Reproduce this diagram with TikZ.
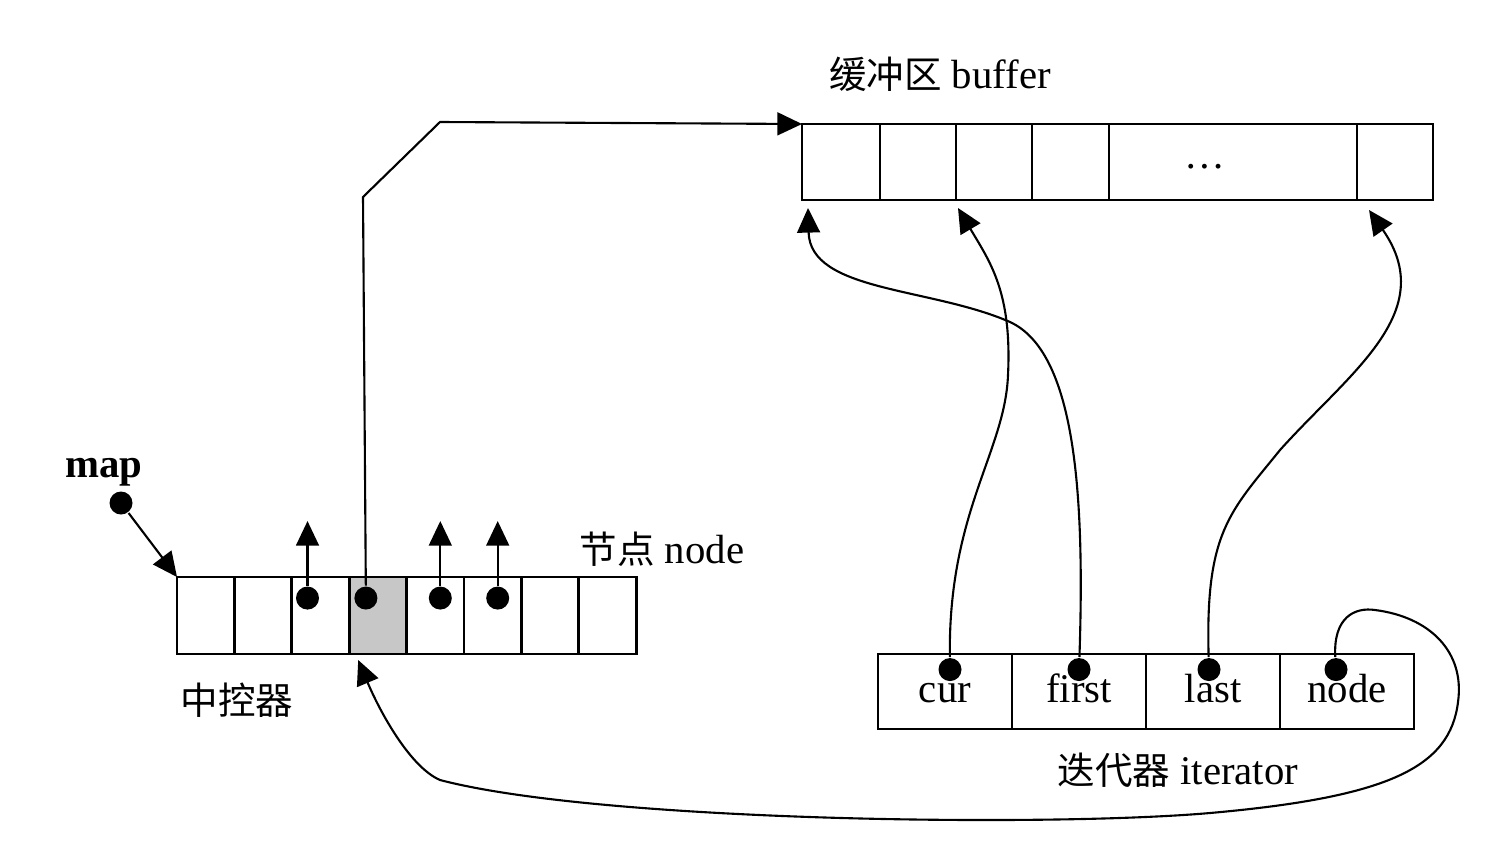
\documentclass[tikz,border=0pt]{standalone}
\usepackage{fontspec}
\setmainfont{Liberation Serif}
\newfontfamily\cjk[Scale=0.92]{Noto Sans CJK SC}
\usepackage{tikz}
\usetikzlibrary{arrows.meta,positioning,calc}

\begin{document}
\begin{tikzpicture}[>={Triangle[length=7pt,width=6.5pt]}, semithick, node distance=0pt,
    font=\fontsize{11.6}{14}\selectfont]

    \tikzstyle{cell}=[draw=black, thick, minimum height=0.77cm, minimum width=0.574cm, inner sep=0pt, outer sep=0pt]
    \tikzstyle{itcell}=[cell, minimum height=0.75cm, minimum width=1.34cm, text height=1.8ex, text depth=0.4ex]
    \tikzstyle{dot}=[circle, fill=black, inner sep=0pt, minimum size=0.23cm]
    \tikzstyle{lbl}=[inner sep=1pt]

    \useasboundingbox (0,0) rectangle (14.96,8.42);

    % map (the controller)
    \node[cell, anchor=west] (m0) at (1.77,2.265) {};
    \node[cell, right=of m0] (m1) {};
    \node[cell, right=of m1] (m2) {};
    \node[cell, right=of m2, fill=black!22] (m3) {};
    \node[cell, right=of m3] (m4) {};
    \node[cell, right=of m4] (m5) {};
    \node[cell, right=of m5] (m6) {};
    \node[cell, right=of m6] (m7) {};

    % buffer
    \node[cell, anchor=west, minimum height=0.76cm, minimum width=0.78cm] (b0) at (8.02,6.80) {};
    \node[cell, right=of b0, minimum height=0.76cm, minimum width=0.76cm] (b1) {};
    \node[cell, right=of b1, minimum height=0.76cm, minimum width=0.76cm] (b2) {};
    \node[cell, right=of b2, minimum height=0.76cm, minimum width=0.77cm] (b3) {};
    \node[cell, right=of b3, minimum height=0.76cm, minimum width=2.48cm] (b4) {};
    \node[cell, right=of b4, minimum height=0.76cm, minimum width=0.76cm] (b5) {};
    \node[lbl] (bdots) at ($(b4.center)+(-0.28,-0.05)$) {\dots};

    % iterator
    \node[itcell, anchor=west] (i0) at (8.78,1.505) {cur};
    \node[itcell, right=of i0] (i1) {first};
    \node[itcell, right=of i1] (i2) {last};
    \node[itcell, right=of i2] (i3) {node};

    % labels
    \node[lbl, font=\fontsize{11.6}{14}\selectfont\bfseries] (maplbl) at (1.04,3.70) {map};
    \node[lbl] (buflbl) at (9.40,7.68) {{\cjk 缓冲区} buffer};
    \node[lbl] (nodelbl) at (6.62,2.93) {{\cjk 节点} node};
    \node[lbl] (ctrllbl) at (2.37,1.42) {\cjk 中控器};
    \node[lbl] (itlbl) at (11.78,0.72) {{\cjk 迭代器} iterator};

    % pointers
    \node[dot] (dm) at (1.21,3.39) {};
    \node[dot, below=0.085cm of m2.north, xshift=-0.13cm] (d2) {};
    \node[dot, below=0.085cm of m3.north, xshift=-0.12cm] (d3) {};
    \node[dot, below=0.085cm of m4.north, xshift=0.05cm] (d4) {};
    \node[dot, below=0.085cm of m5.north, xshift=0.05cm] (d5) {};
    \node[dot, below=0.03cm of i0.north, xshift=0.05cm] (dcur) {};
    \node[dot, below=0.03cm of i1.north] (dfirst) {};
    \node[dot, below=0.03cm of i2.north, xshift=-0.04cm] (dlast) {};
    \node[dot, below=0.03cm of i3.north, xshift=-0.11cm] (dnode) {};

    \coordinate (t2) at ($(d2)+(0,0.77)$);
    \coordinate (t4) at ($(d4)+(0,0.77)$);
    \coordinate (t5) at ($(d5)+(0,0.77)$);
    \coordinate (k1) at (3.63,6.45);
    \coordinate (k2) at (4.40,7.20);
    \coordinate (bfirst) at ($(b0.south west)+(0.06,-0.08)$);
    \coordinate (bcur) at ($(b2.south west)+(0.02,-0.08)$);
    \coordinate (blast) at ($(b5.south west)+(0.12,-0.10)$);
    \coordinate (mcur) at ($(m3.south west)+(0.09,-0.06)$);

    \draw[->] (dm) -- (m0.north west);
    \draw[->] (d2) -- (t2);
    \draw[->] (d4) -- (t4);
    \draw[->] (d5) -- (t5);
    \draw[->] (d3) -- (k1) -- (k2) -- (b0.north west);

    \draw[->] (dcur) .. controls (9.48,3.3) and (10.05,3.9) .. (10.08,4.67)
        .. controls (10.12,5.5) and (9.9,5.8) .. (bcur);
    \draw[->] (dfirst) .. controls (10.85,3.5) and (10.75,4.9) .. (10.10,5.20)
        .. controls (9.3,5.55) and (8.1,5.5) .. (bfirst);
    \draw[->] (dlast) .. controls (12.05,3.1) and (12.3,3.3) .. (12.8,3.92)
        .. controls (13.5,4.7) and (14.4,5.3) .. (blast);
    \draw[->] (dnode) .. controls (13.33,2.25) and (13.55,2.35) .. (13.75,2.32)
        .. controls (14.3,2.25) and (14.65,1.9) .. (14.58,1.4)
        .. controls (14.5,0.75) and (13.9,0.45) .. (12.1,0.29)
        .. controls (10.5,0.15) and (6.0,0.2) .. (4.4,0.62)
        .. controls (4.1,0.75) and (3.8,1.3) .. (mcur);
\end{tikzpicture}
\end{document}
